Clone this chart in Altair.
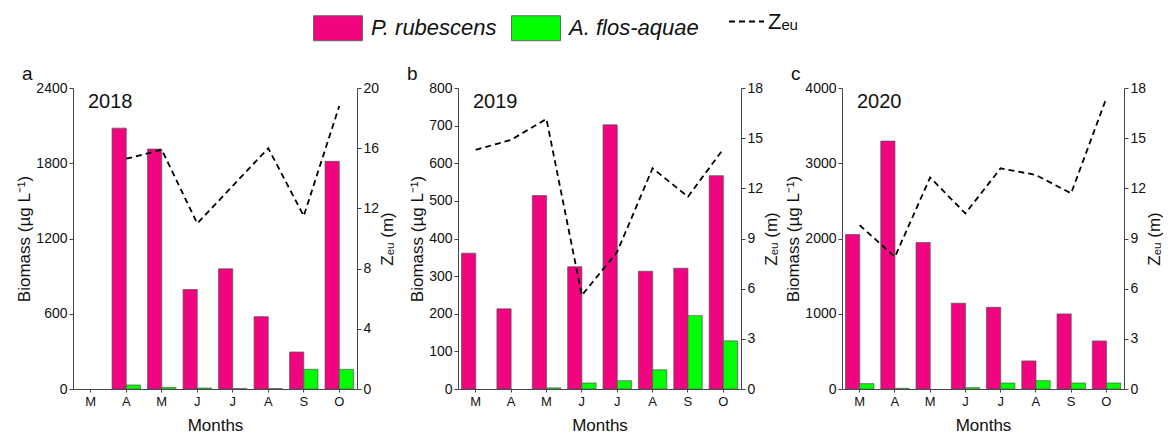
import altair as alt
import pandas as pd

months = ['Mar', 'Apr', 'May', 'Jun', 'Jul', 'Aug', 'Sep', 'Oct']
species = ['P. rubescens', 'A. flos-aquae']
years = ['2018', '2019', '2020']
letters = ['a', 'b', 'c']
zeu_name = 'Z\u2091\u1d64'

# Biomass (µg L-1)
pink_2018 = [0, 2080, 1913, 793, 958, 577, 295, 1815]
green_2018 = [0, 32, 13, 8, 3, 3, 157, 157]
pink_2019 = [361, 213, 514, 325, 702, 313, 321, 567]
green_2019 = [0, 0, 3, 16, 22, 51, 195, 128]
pink_2020 = [2053, 3295, 1947, 1140, 1086, 373, 998, 639]
green_2020 = [71, 9, 0, 18, 80, 111, 80, 80]

# Euphotic depth Zeu (m)
zeu_2018 = [None, 15.3, 15.9, 11.0, 13.5, 16.0, 11.5, 18.8]
zeu_2019 = [14.3, 14.9, 16.15, 5.6, 8.2, 13.2, 11.5, 14.35]
zeu_2020 = [9.8, 7.9, 12.65, 10.5, 13.2, 12.8, 11.7, 17.4]

bio_max = [2400, 800, 4000]
bio_ticks = [[0, 600, 1200, 1800, 2400],
             [0, 100, 200, 300, 400, 500, 600, 700, 800],
             [0, 1000, 2000, 3000, 4000]]
zeu_max = [20, 18, 18]
zeu_ticks = [[0, 4, 8, 12, 16, 20],
             [0, 3, 6, 9, 12, 15, 18],
             [0, 3, 6, 9, 12, 15, 18]]
widths = [284, 283, 282]

PINK = '#F0047F'
GREEN = '#00FF00'
FONT = 'Liberation Sans'

color_legend = alt.Legend(
    title=None, orient='none', legendX=240, legendY=-85, direction='horizontal',
    symbolType='M-1,-0.51H1V0.51H-1Z', symbolSize=2401, symbolStrokeColor='#666',
    symbolStrokeWidth=1, labelFontSize=22, labelFontStyle='italic', labelFont=FONT,
    labelColor='#111', labelOffset=8, columnPadding=12, padding=0)
dash_legend = alt.Legend(
    title=None, orient='none', legendX=655, legendY=-85, direction='horizontal',
    symbolType='stroke', symbolSize=1225, symbolStrokeColor='black',
    symbolStrokeWidth=1.8, symbolDash=[6, 4], labelFontSize=22, labelFont=FONT,
    labelColor='#111', labelOffset=3, padding=0)


def panel(i, pink, green, zeu):
    rows = []
    for m, p, g in zip(months, pink, green):
        if p > 0:
            rows.append({'month': m, 'species': species[0], 'biomass': p})
        if g > 0:
            rows.append({'month': m, 'species': species[1], 'biomass': g})
    bar_df = pd.DataFrame(rows)
    line_df = pd.DataFrame([{'month': m, 'zeu': z, 'series': zeu_name}
                            for m, z in zip(months, zeu) if z is not None])

    xaxis = alt.Axis(title='Months', labelExpr='substring(datum.value,0,1)',
                     labelAngle=0, labelFontSize=13, titleFontSize=17,
                     tickSize=3, labelPadding=3, titlePadding=9)
    xscale = alt.Scale(domain=months, paddingInner=0.2, paddingOuter=0.1)

    bars = alt.Chart(bar_df).mark_bar(stroke='#555', strokeWidth=0.7).encode(
        x=alt.X('month:N', sort=months, scale=xscale, axis=xaxis),
        xOffset=alt.XOffset('species:N', sort=species,
                            scale=alt.Scale(domain=species, paddingInner=0, paddingOuter=0)),
        y=alt.Y('biomass:Q', scale=alt.Scale(domain=[0, bio_max[i]], nice=False),
                axis=alt.Axis(values=bio_ticks[i], format='d',
                              title='Biomass (\u00b5g L\u207b\u00b9)',
                              labelFontSize=14, titleFontSize=17, tickSize=4,
                              labelPadding=2, titlePadding=2)),
        color=alt.Color('species:N', sort=species,
                        scale=alt.Scale(domain=species, range=[PINK, GREEN]),
                        legend=color_legend),
    )
    line = alt.Chart(line_df).mark_line(color='black', strokeWidth=1.8).encode(
        x=alt.X('month:N', sort=months, scale=xscale, axis=xaxis, bandPosition=0.5),
        y=alt.Y('zeu:Q', scale=alt.Scale(domain=[0, zeu_max[i]], nice=False),
                axis=alt.Axis(orient='right', values=zeu_ticks[i], format='d',
                              title=zeu_name + ' (m)', titleAngle=270, titleBaseline='top',
                              labelFontSize=14, titleFontSize=17, tickSize=4,
                              labelPadding=2, titlePadding=1)),
        strokeDash=alt.StrokeDash('series:N',
                                  scale=alt.Scale(domain=[zeu_name], range=[[6, 4]]),
                                  legend=dash_legend),
    )
    ann = pd.DataFrame({'year': [years[i]], 'letter': [letters[i]]})
    year_text = alt.Chart(ann).mark_text(
        align='left', baseline='middle', fontSize=20, font=FONT, color='#111'
    ).encode(text='year:N', x=alt.value(15), y=alt.value(14))
    letter_text = alt.Chart(ann).mark_text(
        align='left', baseline='middle', fontSize=19, font=FONT, color='#111'
    ).encode(text='letter:N', x=alt.value(-51), y=alt.value(-14))

    return alt.layer(bars, line, year_text, letter_text).resolve_scale(
        y='independent').properties(width=widths[i], height=301)


pa = panel(0, pink_2018, green_2018, zeu_2018)
pb = panel(1, pink_2019, green_2019, zeu_2019)
pc = panel(2, pink_2020, green_2020, zeu_2020)

chart = alt.hconcat(pa, pb, pc, spacing=101, bounds='flush').properties(
    autosize=alt.AutoSizeParams(type='pad'),
    padding={'left': 15, 'top': 3, 'right': 0, 'bottom': 0},
    background='white',
).configure_view(stroke=None).configure_axis(
    domainColor='#444', tickColor='#444', labelColor='#111', titleColor='#111',
    labelFont=FONT, titleFont=FONT, titleFontWeight='normal', grid=False, domainWidth=1
)

chart.save('out.html', embed_options={'renderer': 'svg', 'actions': False})
